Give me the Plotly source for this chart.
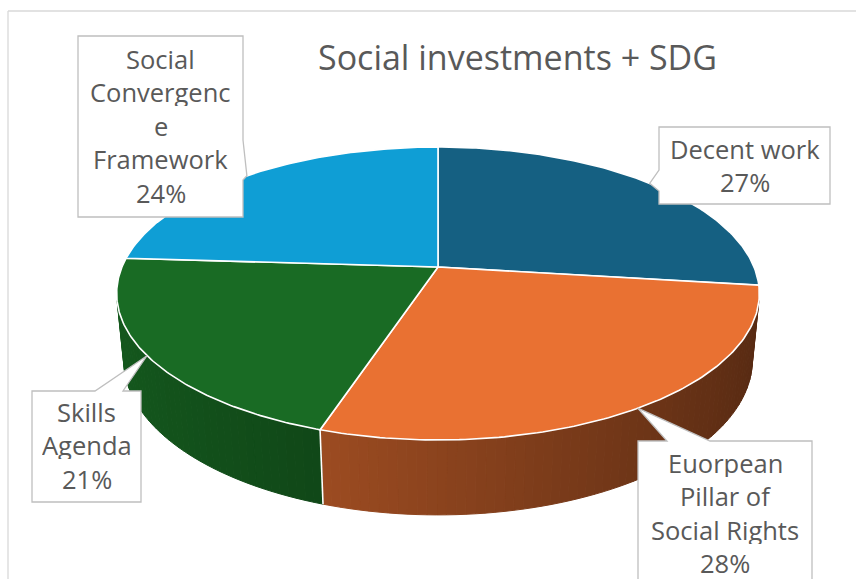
import numpy as np
import plotly.graph_objects as go

# ---- data ----
categories = ["Decent work", "Euorpean Pillar of Social Rights", "Skills Agenda",
              "Social Convergence Framework"]
shares = [27, 28, 21, 24]
label_lines = [["Decent work"], ["Euorpean", "Pillar of", "Social Rights"],
               ["Skills", "Agenda"], ["Social", "Convergenc", "e", "Framework"]]
slice_colors = ["#156082", "#E97132", "#196B24", "#0F9ED5"]
title_text = "Social investments + SDG"

# ---- 3D pie camera (pixel canvas 856 x 579) ----
W, H = 856, 579
CX, CY = 438.0, 267.0          # projected pie centre
ELEV = np.radians(26.64)       # camera elevation
DIST = 4.941                   # camera distance in pie radii
FOCAL = 1561.5                 # focal length in pixels
THICK = 0.236                  # pie thickness in pie radii
S, C = np.sin(ELEV), np.cos(ELEV)


def project(X, Y, Z):
    depth = DIST - Y * S - Z * C
    px = CX + FOCAL * X / depth
    py = CY - FOCAL * (Y * C - Z * S) / depth
    return px, py


def rim(theta_deg, y=0.0, r=1.0):
    t = np.radians(theta_deg)
    return project(r * np.sin(t), y, -r * np.cos(t))


def hex_rgb(h):
    h = h.lstrip("#")
    return np.array([int(h[i:i + 2], 16) for i in (0, 2, 4)], dtype=float)


def shade(h, k):
    r, g, b = np.clip(hex_rgb(h) * k, 0, 255).astype(int)
    return f"rgb({r},{g},{b})"


total = float(sum(shares))
bounds = np.concatenate([[0.0], np.cumsum(shares) / total * 360.0])

fig = go.Figure()

# visible part of the cylinder wall
theta_a = np.degrees(np.arccos(-1.0 / (DIST * C)))
theta_b = 360.0 - theta_a

# side walls, split into strips to carry the lighting gradient
for i, col in enumerate(slice_colors):
    a0, a1 = max(bounds[i], theta_a), min(bounds[i + 1], theta_b)
    if a1 <= a0:
        continue
    n = max(2, int(np.ceil((a1 - a0) / 1.5)))
    edges = np.linspace(a0, a1, n + 1)
    for j in range(n):
        t = np.linspace(edges[j], edges[j + 1], 4)
        tx, ty = rim(t)
        bx, by = rim(t[::-1], y=-THICK)
        xs = np.concatenate([tx, bx, tx[:1]])
        ys = np.concatenate([ty, by, ty[:1]])
        tm = np.radians(0.5 * (edges[j] + edges[j + 1]))
        k = 0.6 - 0.23 * np.sin(tm)
        fc = shade(col, k)
        fig.add_trace(go.Scatter(x=xs, y=ys, mode="lines", fill="toself",
                                 fillcolor=fc, line=dict(color=fc, width=1),
                                 hoverinfo="skip", showlegend=False))

# white seams where slices meet on the wall
for b in bounds[1:-1]:
    if theta_a < b < theta_b:
        x0, y0 = rim(b)
        x1, y1 = rim(b, y=-THICK)
        fig.add_trace(go.Scatter(x=[x0, x1], y=[y0, y1], mode="lines",
                                 line=dict(color="white", width=1.6),
                                 hoverinfo="skip", showlegend=False))

# top faces
for i, col in enumerate(slice_colors):
    t = np.linspace(bounds[i], bounds[i + 1], 120)
    rx, ry = rim(t)
    xs = np.concatenate([[CX], rx, [CX]])
    ys = np.concatenate([[CY], ry, [CY]])
    fig.add_trace(go.Scatter(x=xs, y=ys, mode="lines", fill="toself",
                             fillcolor=col, line=dict(color="white", width=1.6),
                             name=categories[i], hoverinfo="skip", showlegend=False))

# ---- callout data labels ----
# box (x0, y0, x1, y1), side carrying the pointer, pointer base along that side
callouts = [
    dict(box=(659, 127, 830, 204), side="left", base=(170, 191), first=148.5),
    dict(box=(638, 441, 812, 640), side="top", base=(667, 710), first=462.5),
    dict(box=(32, 391, 141, 502), side="top", base=(95, 123), first=411.5),
    dict(box=(78, 36, 243, 217), side="right", base=(140, 180), first=58.5),
]
LINE_STEP = 33.6
shapes = []
annotations = []
for i, co in enumerate(callouts):
    x0, y0, x1, y1 = co["box"]
    mid = 0.5 * (bounds[i] + bounds[i + 1])
    tx, ty = rim(mid)
    a, b = co["base"]
    if co["side"] == "right":
        pts = [(x0, y0), (x1, y0), (x1, a), (tx, ty), (x1, b), (x1, y1), (x0, y1)]
    elif co["side"] == "left":
        pts = [(x0, y0), (x1, y0), (x1, y1), (x0, y1), (x0, b), (tx, ty), (x0, a)]
    else:
        pts = [(x0, y0), (a, y0), (tx, ty), (b, y0), (x1, y0), (x1, y1), (x0, y1)]
    path = "M " + " L ".join(f"{px:.1f},{py:.1f}" for px, py in pts) + " Z"
    shapes.append(dict(type="path", path=path, xref="x", yref="y",
                       fillcolor="white", line=dict(color="#bfbfbf", width=1.3),
                       layer="above"))
    lines = label_lines[i] + [f"{shares[i]}%"]
    cxl = 0.5 * (x0 + x1)
    for j, txt in enumerate(lines):
        annotations.append(dict(x=cxl, y=co["first"] + j * LINE_STEP, xref="x", yref="y",
                                text=txt, showarrow=False, xanchor="center",
                                yanchor="middle", height=28, borderpad=0,
                                font=dict(family="Open Sans", size=25.5, color="#595959")))

# chart frame (top and left edges)
shapes.append(dict(type="line", xref="x", yref="y", x0=8, y0=11, x1=W + 5, y1=11,
                   line=dict(color="#d9d9d9", width=1.3), layer="below"))
shapes.append(dict(type="line", xref="x", yref="y", x0=8, y0=11, x1=8, y1=H + 5,
                   line=dict(color="#d9d9d9", width=1.3), layer="below"))

annotations.append(dict(x=517, y=57, xref="x", yref="y", text=title_text,
                        showarrow=False, xanchor="center", yanchor="middle",
                        font=dict(family="Open Sans", size=34, color="#595959")))

fig.update_layout(
    width=W, height=H,
    margin=dict(l=0, r=0, t=0, b=0),
    paper_bgcolor="white", plot_bgcolor="white",
    xaxis=dict(range=[0, W], visible=False, fixedrange=True),
    yaxis=dict(range=[H, 0], visible=False, fixedrange=True),
    shapes=shapes, annotations=annotations,
    showlegend=False, hovermode=False,
)

fig.write_html("out.html")
